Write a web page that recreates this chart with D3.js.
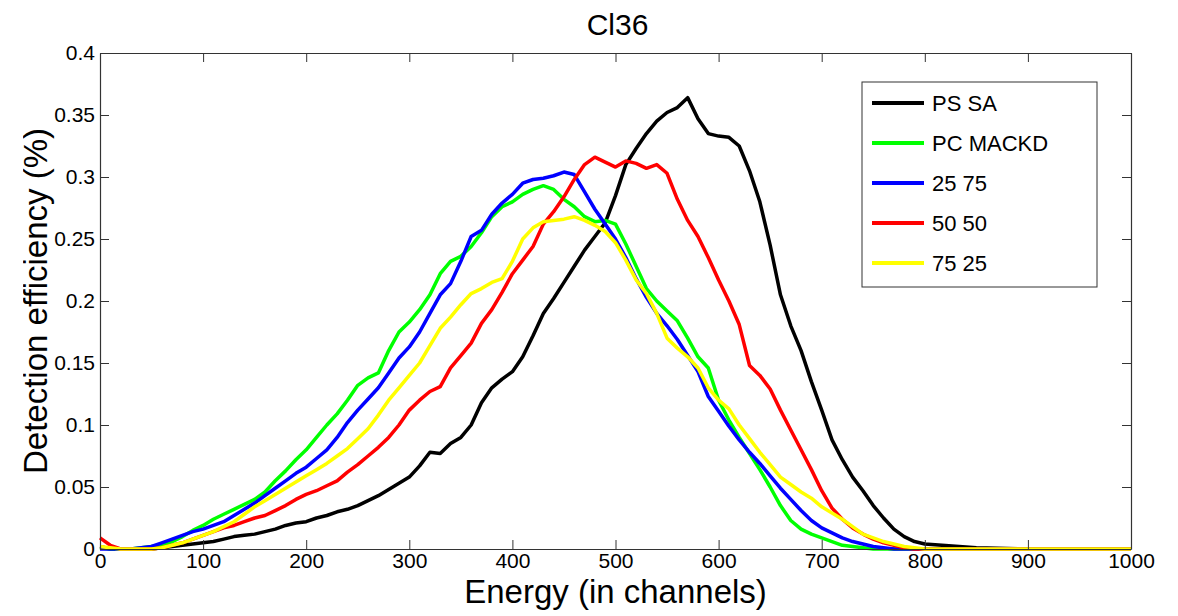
<!DOCTYPE html>
<html>
<head>
<meta charset="utf-8">
<script src="https://cdn.jsdelivr.net/npm/d3@7"></script>
<style>
  body { margin: 0; background: #fff; }
  svg { display: block; font-family: "Liberation Sans", Arial, sans-serif; }
</style>
</head>
<body>
<svg id="chart" width="1178" height="616"></svg>
<script>
//========================== Data ================================

const channels = [0,10,20,30,40,50,60,70,80,90,
  100,110,120,130,140,150,160,170,180,190,
  200,210,220,230,240,250,260,270,280,290,
  300,310,320,330,340,350,360,370,380,390,
  400,410,420,430,440,450,460,470,480,490,
  500,510,520,530,540,550,560,570,580,590,
  600,610,620,630,640,650,660,670,680,690,
  700,710,720,730,740,750,760,770,780,790,
  800,850,900,950,1000]

const psSA = [0.002,0,0,0,0,0,0.001,0.002,0.003,0.004,
  0.005,0.006,0.008,0.010,0.011,0.012,0.014,0.016,0.019,0.021,
  0.022,0.025,0.027,0.030,0.032,0.035,0.039,0.043,0.048,0.053,
  0.058,0.067,0.078,0.077,0.085,0.090,0.100,0.118,0.130,0.137,
  0.143,0.155,0.172,0.190,0.202,0.215,0.228,0.241,0.252,0.263,
  0.285,0.310,0.323,0.335,0.345,0.352,0.356,0.364,0.347,0.335,
  0.333,0.332,0.325,0.305,0.280,0.245,0.205,0.180,0.160,0.135,
  0.112,0.088,0.072,0.058,0.047,0.035,0.025,0.016,0.010,0.006,
  0.004,0.001,0,0,0]

const pcMACKD = [0.001,0,0,0,0.001,0.002,0.003,0.006,0.010,0.015,
  0.019,0.024,0.028,0.032,0.036,0.040,0.046,0.055,0.063,0.072,
  0.080,0.090,0.100,0.109,0.120,0.132,0.138,0.142,0.160,0.175,
  0.183,0.193,0.205,0.222,0.232,0.236,0.244,0.255,0.268,0.276,
  0.280,0.286,0.290,0.293,0.290,0.282,0.276,0.268,0.264,0.265,
  0.262,0.246,0.228,0.210,0.200,0.192,0.184,0.170,0.155,0.146,
  0.120,0.104,0.090,0.077,0.064,0.050,0.035,0.023,0.016,0.012,
  0.009,0.006,0.003,0.002,0.001,0,0,0,0,0,
  0,0,0,0,0]

const mix2575 = [0,0,0,0,0.001,0.002,0.005,0.008,0.011,0.014,
  0.016,0.019,0.022,0.027,0.032,0.037,0.043,0.049,0.055,0.061,
  0.066,0.073,0.080,0.090,0.102,0.112,0.121,0.130,0.142,0.154,
  0.163,0.175,0.190,0.205,0.214,0.232,0.252,0.257,0.270,0.279,
  0.286,0.295,0.298,0.299,0.301,0.304,0.302,0.288,0.274,0.262,
  0.250,0.235,0.218,0.203,0.190,0.180,0.169,0.156,0.143,0.123,
  0.111,0.099,0.088,0.078,0.069,0.059,0.049,0.040,0.031,0.023,
  0.017,0.013,0.009,0.006,0.004,0.002,0.001,0,0,0,
  0,0,0,0,0]

const mix5050 = [0.009,0.003,0,0,0,0,0.001,0.003,0.005,0.008,
  0.011,0.014,0.017,0.019,0.022,0.025,0.027,0.031,0.035,0.040,
  0.044,0.047,0.051,0.055,0.062,0.068,0.075,0.082,0.090,0.100,
  0.112,0.120,0.127,0.131,0.146,0.156,0.166,0.182,0.193,0.207,
  0.222,0.233,0.244,0.262,0.272,0.284,0.298,0.310,0.316,0.312,
  0.308,0.313,0.311,0.307,0.310,0.303,0.282,0.265,0.252,0.235,
  0.217,0.200,0.181,0.148,0.140,0.129,0.112,0.096,0.080,0.064,
  0.047,0.033,0.024,0.017,0.012,0.008,0.005,0.003,0.001,0,
  0,0,0,0,0]

const mix7525 = [0.002,0.001,0,0,0,0,0.001,0.003,0.005,0.008,
  0.011,0.014,0.018,0.022,0.028,0.034,0.039,0.044,0.049,0.054,
  0.059,0.064,0.069,0.075,0.081,0.089,0.097,0.108,0.120,0.130,
  0.140,0.150,0.164,0.178,0.187,0.197,0.206,0.210,0.215,0.218,
  0.232,0.250,0.259,0.264,0.265,0.266,0.268,0.265,0.261,0.256,
  0.247,0.233,0.217,0.206,0.190,0.170,0.162,0.155,0.146,0.130,
  0.120,0.113,0.100,0.089,0.078,0.068,0.058,0.052,0.046,0.041,
  0.034,0.029,0.024,0.018,0.012,0.009,0.006,0.004,0.002,0.001,
  0,0,0,0,0]

const seriesNames = ['PS SA', 'PC MACKD', '25 75', '50 50', '75 25']
const seriesColors = ['#000000', '#00ff00', '#0000ff', '#ff0000', '#ffff00']
const seriesValues = [psSA, pcMACKD, mix2575, mix5050, mix7525]

const xTicks = [0,100,200,300,400,500,600,700,800,900,1000]
const yTicks = [0,0.05,0.1,0.15,0.2,0.25,0.3,0.35,0.4]

//========================== Layout ================================

const svg = d3.select('#chart')
const plotL = 100, plotR = 1131, plotT = 53, plotB = 549

const x = d3.scaleLinear().domain([0, 1000]).range([plotL, plotR])
const y = d3.scaleLinear().domain([0, 0.4]).range([plotB, plotT])

// curves
let line = d3.line()
  .x((d, i) => x(channels[i]))
  .y(d => y(d))

seriesValues.forEach((vals, k) => {
  svg.append('path')
    .datum(vals)
    .attr('d', line)
    .attr('fill', 'none')
    .attr('stroke', seriesColors[k])
    .attr('stroke-width', 3.5)
    .attr('stroke-linejoin', 'round')
})

// axes, ticks pointing inward like matlab
let fmt = d => String(+d.toFixed(2))
let styleAxis = (g) => {
  g.select('.domain').attr('stroke', '#333').attr('stroke-width', 1.2)
  g.selectAll('.tick line').attr('stroke', '#333')
  g.selectAll('.tick text').attr('fill', '#000').attr('font-size', 21)
    .attr('font-family', '"Liberation Sans", Arial, sans-serif')
}

svg.append('g')
  .attr('transform', `translate(0,${plotB})`)
  .call(d3.axisBottom(x).tickValues(xTicks).tickSizeInner(-9).tickSizeOuter(0).tickPadding(4).tickFormat(fmt))
  .call(styleAxis)

svg.append('g')
  .attr('transform', `translate(${plotL},0)`)
  .call(d3.axisLeft(y).tickValues(yTicks).tickSizeInner(-9).tickSizeOuter(0).tickPadding(5).tickFormat(fmt))
  .call(styleAxis)

svg.append('g')
  .attr('transform', `translate(0,${plotT})`)
  .call(d3.axisTop(x).tickValues(xTicks).tickSizeInner(-9).tickSizeOuter(0).tickFormat(''))
  .call(styleAxis)

svg.append('g')
  .attr('transform', `translate(${plotR},0)`)
  .call(d3.axisRight(y).tickValues(yTicks).tickSizeInner(-9).tickSizeOuter(0).tickFormat(''))
  .call(styleAxis)

// titles
svg.append('text')
  .attr('x', (plotL + plotR) / 2 + 2).attr('y', 35)
  .attr('text-anchor', 'middle').attr('font-size', 30)
  .text('Cl36')

svg.append('text')
  .attr('x', (plotL + plotR) / 2).attr('y', 603)
  .attr('text-anchor', 'middle').attr('font-size', 33)
  .text('Energy (in channels)')

// y label is cut at the left edge in the original
svg.append('clipPath').attr('id', 'ylabClip')
  .append('rect').attr('x', 23).attr('y', 0).attr('width', 100).attr('height', 616)

svg.append('g').attr('clip-path', 'url(#ylabClip)')
  .append('text')
  .attr('transform', `translate(47,${(plotT + plotB) / 2}) rotate(-90)`)
  .attr('text-anchor', 'middle').attr('font-size', 33)
  .text('Detection efficiency (%)')

//========================== Legend ================================

let legend = svg.append('g').attr('transform', 'translate(862,82)')
legend.append('rect')
  .attr('width', 235).attr('height', 205)
  .attr('fill', '#fff').attr('stroke', '#333').attr('stroke-width', 1)

seriesNames.forEach((name, k) => {
  let ly = 21 + k * 40
  legend.append('line')
    .attr('x1', 10).attr('x2', 62).attr('y1', ly).attr('y2', ly)
    .attr('stroke', seriesColors[k]).attr('stroke-width', 4)
  legend.append('text')
    .attr('x', 70).attr('y', ly).attr('dy', '0.36em')
    .attr('font-size', 22)
    .text(name)
})
</script>
</body>
</html>
